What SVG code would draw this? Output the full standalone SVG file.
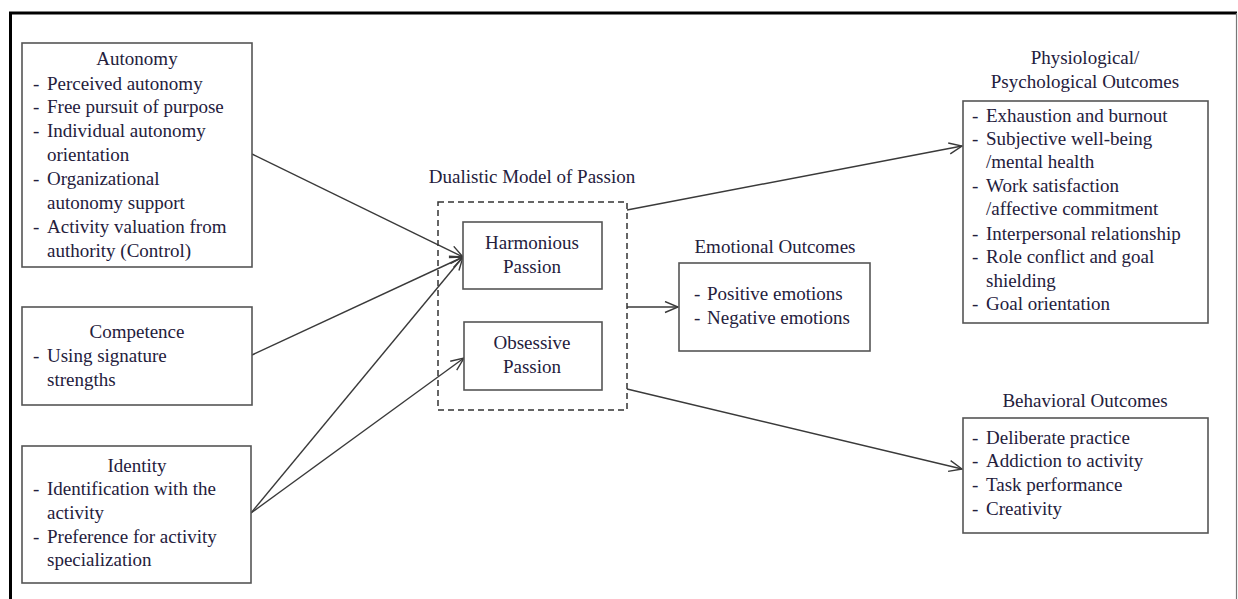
<svg xmlns="http://www.w3.org/2000/svg" width="1238" height="599" viewBox="0 0 1238 599">
<defs>
<style>
text{font-family:"Liberation Serif","Times New Roman",serif;font-size:19px;fill:#24203c}
.c{text-anchor:middle}
.box{fill:#fff;stroke:#555;stroke-width:1.6}
.dash{fill:none;stroke:#333;stroke-width:1.5;stroke-dasharray:6 4}
.ln{fill:none;stroke:#3a3a3a;stroke-width:1.4;marker-end:url(#ah)}
</style>
<marker id="ah" markerUnits="userSpaceOnUse" markerWidth="16" markerHeight="14" refX="14" refY="6" orient="auto">
<path d="M1,0.5 L14,6 L1,11.5" fill="none" stroke="#3a3a3a" stroke-width="1.4"/>
</marker>
</defs>
<rect width="1238" height="599" fill="#fff"/>
<g id="frame">
<line x1="9" y1="13" x2="1237" y2="13" stroke="#000" stroke-width="3"/>
<line x1="10.5" y1="12" x2="10.5" y2="599" stroke="#000" stroke-width="3"/>
<line x1="1236.5" y1="13" x2="1236.5" y2="599" stroke="#777" stroke-width="1.2"/>
</g>
<g id="connectors">
<line class="ln" x1="252" y1="154" x2="463" y2="257"/>
<line class="ln" x1="252" y1="355" x2="463" y2="257"/>
<line class="ln" x1="251" y1="513" x2="463" y2="257"/>
<line class="ln" x1="251" y1="513" x2="464" y2="358"/>
<line class="ln" x1="627" y1="210" x2="962" y2="146"/>
<line class="ln" x1="627" y1="307" x2="678" y2="307"/>
<line class="ln" x1="627" y1="389" x2="962" y2="469"/>
</g>
<g id="autonomy">
<rect class="box" x="22" y="43" width="230" height="224"/>
<text class="c" x="137" y="65">Autonomy</text>
<text x="33" y="90">-</text><text x="47" y="90">Perceived autonomy</text>
<text x="33" y="113">-</text><text x="47" y="113">Free pursuit of purpose</text>
<text x="33" y="137">-</text><text x="47" y="137">Individual autonomy</text>
<text x="47" y="161">orientation</text>
<text x="33" y="185">-</text><text x="47" y="185">Organizational</text>
<text x="47" y="209">autonomy support</text>
<text x="33" y="233">-</text><text x="47" y="233">Activity valuation from</text>
<text x="47" y="257">authority (Control)</text>
</g>
<g id="competence">
<rect class="box" x="22" y="307" width="230" height="98"/>
<text class="c" x="137" y="338">Competence</text>
<text x="33" y="362">-</text><text x="47" y="362">Using signature</text>
<text x="47" y="386">strengths</text>
</g>
<g id="identity">
<rect class="box" x="22" y="446" width="229" height="137"/>
<text class="c" x="137" y="472">Identity</text>
<text x="33" y="495">-</text><text x="47" y="495">Identification with the</text>
<text x="47" y="519">activity</text>
<text x="33" y="543">-</text><text x="47" y="543">Preference for activity</text>
<text x="47" y="566">specialization</text>
</g>
<g id="dmp">
<text class="c" x="532" y="183">Dualistic Model of Passion</text>
<rect class="dash" x="438" y="202" width="189" height="208"/>
</g>
<g id="harmonious">
<rect class="box" x="463" y="222" width="139" height="67"/>
<text class="c" x="532" y="249">Harmonious</text>
<text class="c" x="532" y="273">Passion</text>
</g>
<g id="obsessive">
<rect class="box" x="464" y="322" width="138" height="68"/>
<text class="c" x="532" y="349">Obsessive</text>
<text class="c" x="532" y="373">Passion</text>
</g>
<g id="emotional">
<text class="c" x="775" y="253">Emotional Outcomes</text>
<rect class="box" x="679" y="263" width="191" height="88"/>
<text x="694" y="300">-</text><text x="707" y="300">Positive emotions</text>
<text x="694" y="324">-</text><text x="707" y="324">Negative emotions</text>
</g>
<g id="physio">
<text class="c" x="1085" y="64">Physiological/</text>
<text class="c" x="1085" y="88">Psychological Outcomes</text>
<rect class="box" x="963" y="101" width="245" height="222"/>
<text x="972" y="122">-</text><text x="986" y="122">Exhaustion and burnout</text>
<text x="972" y="145">-</text><text x="986" y="145">Subjective well-being</text>
<text x="986" y="168">/mental health</text>
<text x="972" y="192">-</text><text x="986" y="192">Work satisfaction</text>
<text x="986" y="215">/affective commitment</text>
<text x="972" y="240">-</text><text x="986" y="240">Interpersonal relationship</text>
<text x="972" y="263">-</text><text x="986" y="263">Role conflict and goal</text>
<text x="986" y="287">shielding</text>
<text x="972" y="310">-</text><text x="986" y="310">Goal orientation</text>
</g>
<g id="behavioral">
<text class="c" x="1085" y="407">Behavioral Outcomes</text>
<rect class="box" x="963" y="418" width="245" height="115"/>
<text x="972" y="444">-</text><text x="986" y="444">Deliberate practice</text>
<text x="972" y="467">-</text><text x="986" y="467">Addiction to activity</text>
<text x="972" y="491">-</text><text x="986" y="491">Task performance</text>
<text x="972" y="515">-</text><text x="986" y="515">Creativity</text>
</g>
</svg>
